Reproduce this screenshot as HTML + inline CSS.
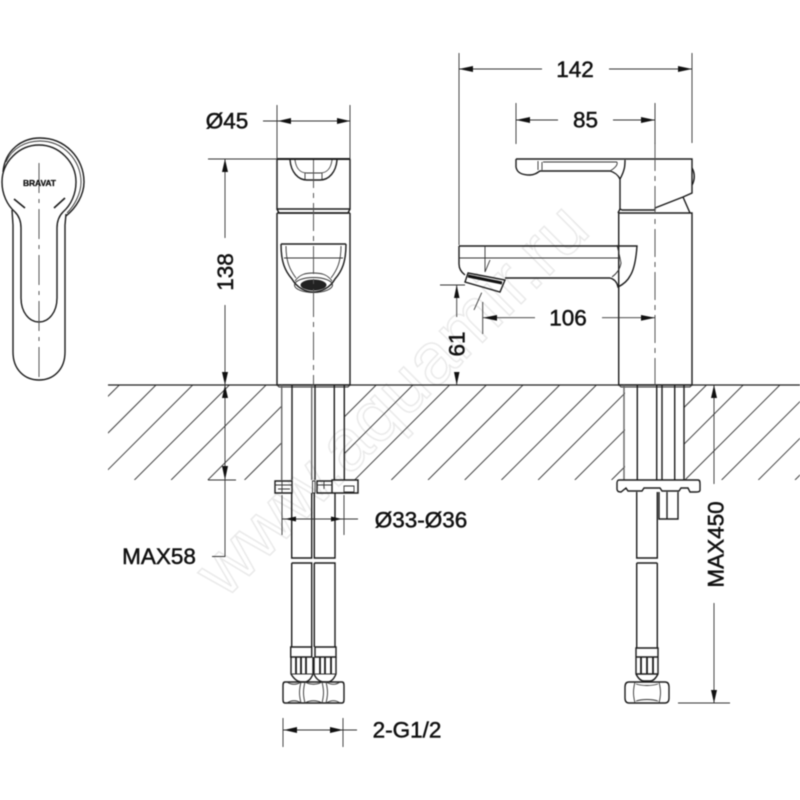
<!DOCTYPE html>
<html><head><meta charset="utf-8"><style>
html,body{margin:0;padding:0;background:#fff;width:800px;height:800px;overflow:hidden}
svg{display:block;filter:blur(.4px)}
text{font-family:"Liberation Sans",sans-serif;fill:#111;stroke:#111;stroke-width:.5;font-size:22.5px;text-anchor:middle;dominant-baseline:central}
.l{fill:none;stroke:#1c1c1c;stroke-width:1.4}
.t{fill:none;stroke:#333;stroke-width:.9}
.g{fill:none;stroke:#555;stroke-width:1}
.h{fill:none;stroke:#444;stroke-width:1}
.a{fill:#111;stroke:none}
.w{fill:#fff;stroke:#eaeaea;stroke-width:1.500;font-size:73px;text-anchor:start;dominant-baseline:auto}
</style></head><body>
<svg width="800" height="800" viewBox="0 0 800 800" xmlns="http://www.w3.org/2000/svg">
<defs>
<clipPath id="hc"><path d="M108 385H282V480H108ZM345 385H625V480H345ZM684 385H800V480H684Z"/></clipPath>
</defs>
<rect width="800" height="800" fill="#fff"/>
<text class="w" x="225" y="600" transform="rotate(-45 225 600)">www.aquamir.ru</text>

<!-- hatch -->
<g class="h" clip-path="url(#hc)">
<path d="M119.3 385L24 480M156 385L61 480M192.7 385L97.7 480M229.4 385L134.4 480M266.1 385L171.1 480M302.8 385L207.8 480M339.5 385L244.5 480M376.2 385L281.2 480M412.9 385L317.9 480M449.6 385L354.6 480M486.3 385L391.3 480M523 385L428 480M559.7 385L464.7 480M596.4 385L501.4 480M633.1 385L538.1 480M669.8 385L574.8 480M706.5 385L611.5 480M743.2 385L648.2 480M779.9 385L684.9 480M816.6 385L721.6 480M853.3 385L758.3 480M890 385L795 480"/>
</g>
<path d="M108 385H800" stroke="#222" stroke-width="1.3" fill="none"/>

<!-- handle top view -->
<g class="l">
<path d="M3 172C5 150 22 138 40 138C65 138 84 158 84 182C84 195 76 208 66 216"/>
<path d="M6 162C12 148 26 141 40 141C63 141 81 160 81 182C81 194 74 206 67 213" class="t"/>
<path d="M15 212C7 205 2 194 2 182C2 162 19 145 39 145C59 145 76 162 76 182C76 194 71 205 63 212C60 215 57 220 57 228V298C57 312 49 322 39 322C29 322 21 312 21 298V228C21 220 18 215 15 212Z"/>
<path d="M12 210L13 225V352C13 370 25 380 39 380C53 380 65 370 65 352V225L66 214"/>
<path d="M14 199L25 208M54 208L65 198" stroke-width="1.6"/>
</g>
<path d="M39 163V380" class="g" stroke-dasharray="30 6 4 6"/>
<text x="39.500" y="183" style="font-size:8.500px;font-weight:bold;stroke-width:.3" textLength="33">BRAVAT</text>

<!-- front view -->
<g class="l">
<path d="M277 159H350M277 159V209H350V159" />
<path d="M277 159H350" stroke-width="2"/>
<path d="M277 209L279 213H348L350 209"/>
<path d="M277 213H350M277 213V385H350V213"/>
<path d="M288 159H338M281 244H346" stroke-width="1.6"/>
<path d="M290 160C291 172 298 180 307 180H320C329 180 336 172 337 160" />
<path d="M295 160C296 168 300 173 307 173H320C327 173 331 168 332 160M305 173V180M322 173V180" class="t"/>
<path d="M281 244C281 262 285 271 292 279C297 288 306 292 313 292C321 292 330 288 335 279C342 271 346 262 346 244"/>
<path d="M286 246C286 262 290 270 296 278M341 246C341 262 337 270 331 278M284 258H343" class="t"/>
<path d="M295 281C300 274 306 273 313 273C321 273 327 274 332 281" class="t"/>
</g>
<ellipse cx="313.500" cy="285" rx="13" ry="5.500" fill="#222"/>
<ellipse cx="313.500" cy="285" rx="19" ry="7.500" fill="none" stroke="#333" stroke-width="1"/>
<path d="M313.500 160V385" class="g" stroke-dasharray="28 5 5 5"/>

<!-- side view -->
<g class="l">
<path d="M516 159H692V193L683 197L655 208L655 210H622L620 209V179C625 170 625 165 625 160"/>
<path d="M516 159V167C517 173 522 175 530 175C534 175 537 173 540 171H610C614 172 618 175 620 179"/>
<path d="M683 197L690 213M692 168C695 173 695 180 692 185" />
<path d="M538 161V170M542 162V170M543 162H617M617 162C618 165 615 168 610 171" class="t"/>
<path d="M618.700 213H692V385H618.700ZM618.700 213V245M620 209L618 213"/>
<path d="M459 246H637C636 260 634 270 630 276C627 282 622 285 618 287C617 282 614 279 610 278H505M459 246V264C459 268 461 272 465 275"/>
<path d="M459 258H620M617 245L620 258L621 263C620 270 616 274 612 277" class="t"/>
<path d="M485 246V272M490 260L485 272" class="t"/>
<path d="M468 273L505 280L500 292L465 282Z"/>
<path d="M468 276L502 283" stroke="#111" stroke-width="3"/>
<path d="M481.700 292.700L474 310" class="t"/>
</g>
<path d="M655 143V385" class="g" stroke-dasharray="28 5 5 5"/>
<path d="M277 385L279 387H348L350 385M618.700 385L621 387H690L692 385" class="t"/>

<!-- front legs -->
<g class="l">
<path d="M292 385V480M334.300 385V480M344.300 385V480M315 385V480" />
<path d="M281.700 385V480M311.700 385V480" stroke="#666"/>
<path d="M275 481H292V493H275Z"/>
<path d="M275 485H292M282 481V493M278 489H290" class="t"/>
<path d="M317 481H332V493H317ZM332 480H358V493H332Z"/>
<path d="M312.500 481H315V493H312.500ZM324 481V489M317 485H332M344 486H354V492H344Z" class="t"/>
<path d="M291.700 493V558H311.700V493M314.300 493V558H335V493"/>
<path d="M291.700 563H311.700V647M291.700 563V647M314.300 563H335V647M314.300 563V647"/>
<path d="M290.700 647H311.700V657H290.700ZM315 647H336V657H315Z"/>
<path d="M291 657V674C294 679 298 682 302 682H304C308 682 311 679 313 674V657M314 657V674C316 679 320 682 325 682H327C331 682 334 679 336 674V657"/>
<path d="M291 674H313M314 674H336" class="t"/>
<path d="M296 657V674M301 657V674M306 657V674M320 657V674M325 657V674M331 657V674" stroke-width="1.800"/>
<path d="M285 682H342C344 682 344 684 344 686V699C344 701 344 703 342 703H285C283 703 283 701 283 699V686C283 684 283 682 285 682Z"/>
<path d="M301 682C299 690 299 695 301 703M305 682C303 690 303 695 305 703M322 682C324 690 324 695 322 703M326 682C328 690 328 695 326 703" class="t"/>
<path d="M287 682C291 685 297 685 301 682M287 703C291 700 297 700 301 703M305 682C310 685 317 685 322 682M305 703C310 700 317 700 322 703M326 682C331 685 336 685 340 682M326 703C331 700 336 700 340 703" class="t" stroke="#777"/>
</g>
<path d="M282 495V535M344 495V535M282 519H358" class="t"/>
<path class="a" d="M285 519L296 516.500V521.500ZM342 519L331 516.500V521.500Z"/>
<path d="M283 718V747M343 718V747M283 730H357" class="t"/>
<path class="a" d="M284 730L297 727V733ZM343 730L330 727V733Z"/>

<!-- right legs -->
<g class="l">
<path d="M637.300 385V480M662 385V480M674.700 385V480M684 385V480M656.700 385V480"/>
<path d="M624 385V480" stroke="#666"/>
<path d="M619 480H698C700 480 700 482 700 484V490C700 492 698 492 696 492H690L688 488H681L679 491H662L660 488H644L642 491H628L626 488L621 492C618 492 617 491 617 489V483C617 481 618 480 619 480Z"/>
<path d="M636.700 492V558H657.300V492M636.700 563H657.300M636.700 563V648M657.300 563V648"/>
<path d="M636 648H658V657H636ZM636 657V674C638 678 641 681 644 681H650C653 681 656 678 658 674V657M636 674H658"/>
<path d="M641 657V674M647 657V674M653 657V674" stroke-width="1.800"/>
<path d="M629 682H665C668 682 669 684 669 687V698C669 701 668 703 665 703H629C626 703 625 701 625 698V687C625 684 626 682 629 682Z"/>
<path d="M635 682C633 690 633 695 635 703M659 682C661 690 661 695 659 703M636 684C642 686 652 686 658 684M636 701C642 699 652 699 658 701" class="t"/>
<path d="M659 492V519H678V492M667 492V519" />
</g>

<!-- dimensions -->
<g class="t">
<path d="M277 105V159M350 105V159M263 121H350"/>
<path d="M208 159H277M225 159V238M225 305V480M225 480V556.500H212"/>
<path d="M459 53V245M692 53V143M459 69H542M609 69H692"/>
<path d="M516 103V144M655 103V144M516 120H558M613 120H655"/>
<path d="M482.700 302V334M483 317.700H535M602 317.700H655"/>
<path d="M440 285H465M456.700 285V317M456.700 372V385"/>
<path d="M714 385V484M714 603V703M678 703H730"/>
<path d="M208 480H236"/>
</g>
<g class="a">
<path d="M278 121L291 118V124ZM350 121L337 118V124Z"/>
<path d="M225 159L222 172H228Z"/>
<path d="M225 385L222 372H228ZM225 385L222 398H228ZM225 480L222 466H228Z"/>
<path d="M459 69L473 66V72ZM692 69L678 66V72Z"/>
<path d="M516 120L530 117V123ZM655 120L641 117V123Z"/>
<path d="M483 317.700L497 315V320.700ZM655 317.700L641 315V320.700Z"/>
<path d="M456.700 285L454 298H459.500ZM456.700 385L454 372H459.500Z"/>
<path d="M714 385L711 398H717ZM714 703L711 690H717Z"/>
</g>

<!-- labels -->
<text x="227" y="121">Ø45</text>
<text x="575" y="69.500">142</text>
<text x="585.500" y="120">85</text>
<text x="568" y="318">106</text>
<text x="225.500" y="272" transform="rotate(-90 225.500 272)">138</text>
<text x="457" y="344" transform="rotate(-90 457 344)">61</text>
<text x="159" y="556.500">MAX58</text>
<text x="421" y="520">Ø33-Ø36</text>
<text x="407" y="730">2-G1/2</text>
<text x="716" y="544.500" transform="rotate(-90 716 544.500)">MAX450</text>
</svg>
</body></html>
